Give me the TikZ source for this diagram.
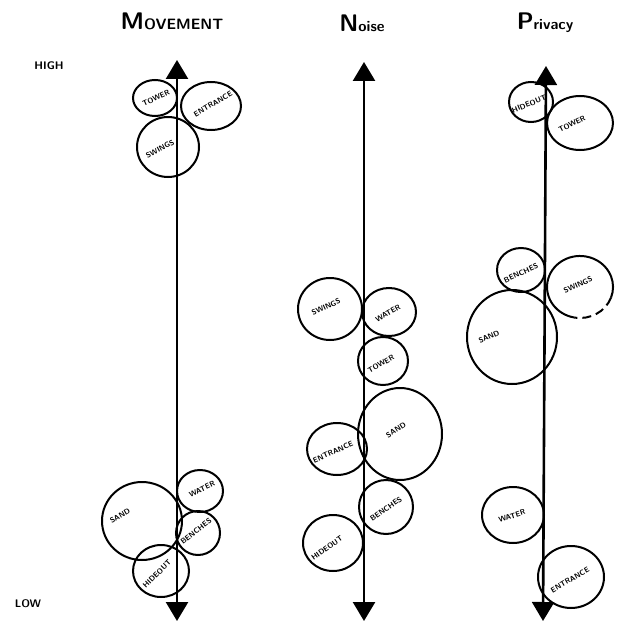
\documentclass[tikz,border=0pt]{standalone}
\usetikzlibrary{arrows.meta}
\tikzset{
  axis/.style={line width=2.6pt, {Triangle[width=22pt,length=19pt]}-{Triangle[width=22pt,length=19pt]}},
  bub/.style={line width=2pt},
  lbl/.style={font=\sffamily\bfseries\fontsize{7.5}{8}\selectfont, inner sep=0pt},
  ttl/.style={font=\sffamily\bfseries\fontsize{24}{25}\selectfont, inner sep=0pt},
  rest/.style={},
  side/.style={font=\sffamily\bfseries\fontsize{11}{12}\selectfont, inner sep=0pt},
}
\newcommand{\sm}{\fontsize{15}{16}\selectfont}
% \bubble{name}{centre}{x radius}{y radius}{label position}{label angle}{label}
\newcommand{\bubble}[7]{%
  \coordinate (#1) at (#2);
  \draw[bub] (#1) ellipse [x radius=#3, y radius=#4];
  \node[lbl, rotate=#6] (#1-t) at (#5) {#7};
}
\begin{document}
\begin{tikzpicture}[x=1pt, y=-1pt]
\useasboundingbox (0,0) rectangle (618,631);

% column titles and scale ends
\node[ttl, anchor=base] (tmove) at (172,30) {M{\sm OVEMENT}};
\node[ttl, anchor=base] (tnoise) at (362,32) {N{\sm oise}};
\node[ttl, anchor=base] (tpriv) at (545,30) {P{\sm rivacy}};
\node[side] (high) at (49,66) {HIGH};
\node[side] (low) at (28,604) {LOW};

% axes
\coordinate (mtop) at (177,60); \coordinate (mbot) at (177,621);
\coordinate (ntop) at (364,62); \coordinate (nbot) at (364,621);
\coordinate (ptop) at (546,66); \coordinate (pbot) at (543,621);
\draw[axis] (mbot) -- (mtop);
\draw[axis] (nbot) -- (ntop);
\draw[axis] (pbot) -- (ptop);

% movement
\bubble{mtower}{155,98}{22}{18}{156,98}{25}{TOWER}
\bubble{mentr}{211,106}{30}{24}{213,104}{30}{ENTRANCE}
\bubble{mswing}{168,147}{31}{30}{160,149}{28}{SWINGS}
\bubble{msand}{142,521}{40}{39}{120,516}{30}{SAND}
\bubble{mwater}{200,491}{23}{21}{202,489}{25}{WATER}
\bubble{mbench}{198,533}{22}{22}{196,531}{38}{BENCHES}
\bubble{mhide}{161,571}{28}{26}{157,574}{45}{HIDEOUT}

% noise
\bubble{nswing}{330,309}{32}{31}{326,307}{25}{SWINGS}
\bubble{nwater}{389,312}{27}{24}{388,313}{30}{WATER}
\bubble{ntower}{383,361}{25}{24}{381,364}{30}{TOWER}
\bubble{nsand}{400,434}{42}{46}{396,430}{32}{SAND}
\bubble{nentr}{337,449}{30}{26}{333,452}{24}{ENTRANCE}
\bubble{nbench}{386,507}{27}{27}{386,509}{35}{BENCHES}
\bubble{nhide}{333,543}{30}{28}{327,548}{35}{HIDEOUT}

% privacy
\bubble{phide}{531,102}{22}{20}{529,104}{22}{HIDEOUT}
\bubble{ptower}{580,123}{33}{27}{572,124}{27}{TOWER}
\bubble{pbench}{521,270}{24}{22}{521,273}{25}{BENCHES}
% swings outline: solid round the top, dashed along the lower right
\coordinate (pswing) at (580,287);
\draw[bub] (pswing) ++(-5.7,30.5) arc[start angle=100, end angle=380, x radius=33, y radius=31];
\draw[bub, dash pattern=on 9pt off 5pt] (pswing) ++(31.0,10.6) arc[start angle=20, end angle=100, x radius=33, y radius=31];
\node[lbl, rotate=25] (pswing-t) at (578,285) {SWINGS};
\bubble{psand}{512,337}{45}{47}{489,337}{24}{SAND}
\bubble{pwater}{513,515}{31}{28}{512,516}{18}{WATER}
\bubble{pentr}{571,577}{33}{31}{570,580}{30}{ENTRANCE}
\end{tikzpicture}
\end{document}
